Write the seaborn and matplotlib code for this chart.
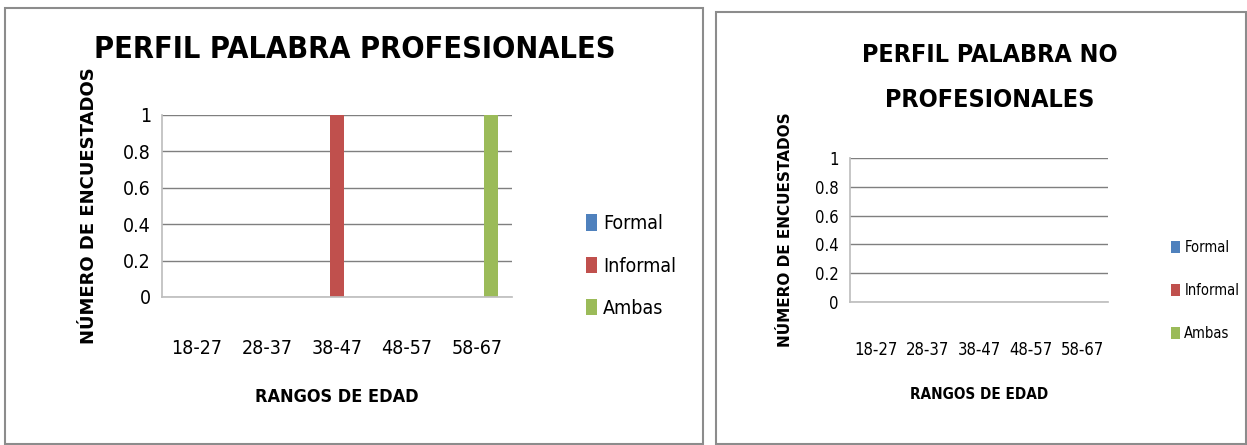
import matplotlib
matplotlib.use("Agg")
import matplotlib.pyplot as plt
import seaborn as sns
import pandas as pd
from matplotlib.patches import Rectangle

# ---- data ----
rangos = ["18-27", "28-37", "38-47", "48-57", "58-67"]
series = ["Formal", "Informal", "Ambas"]
prof_formal = [0, 0, 0, 0, 0]
prof_informal = [0, 0, 1, 0, 0]
prof_ambas = [0, 0, 0, 0, 1]
noprof_formal = [0, 0, 0, 0, 0]
noprof_informal = [0, 0, 0, 0, 0]
noprof_ambas = [0, 0, 0, 0, 0]
yticks = [0, 0.2, 0.4, 0.6, 0.8, 1]
ytick_labels = ["0", "0.2", "0.4", "0.6", "0.8", "1"]
colors = ["#4F81BD", "#C0504D", "#9BBB59"]

def make_df(f, i, a):
    rows = []
    for s, vals in zip(series, [f, i, a]):
        for r, v in zip(rangos, vals):
            rows.append({"Rango": r, "Serie": s, "Valor": v})
    return pd.DataFrame(rows)

df_prof = make_df(prof_formal, prof_informal, prof_ambas)
df_noprof = make_df(noprof_formal, noprof_informal, noprof_ambas)

sns.set_theme(style="white")
plt.rcParams["font.family"] = ["DejaVu Sans"]
plt.rcParams["font.stretch"] = "condensed"

W, H = 1247, 445
fig = plt.figure(figsize=(W / 100, H / 100), dpi=100)
fig.patch.set_facecolor("white")

def fx(x): return x / W
def fy(y): return 1 - y / H

# panel borders
fig.patches.append(Rectangle((fx(5), fy(444)), fx(698), (444 - 8) / H, transform=fig.transFigure,
                             fill=False, edgecolor="#8c8c8c", linewidth=1.5))
fig.patches.append(Rectangle((fx(716), fy(444)), fx(530), (444 - 12) / H, transform=fig.transFigure,
                             fill=False, edgecolor="#8c8c8c", linewidth=1.5))

def draw(ax, df, legend_anchor, tick_fs, leg_fs, xpad, xlabpad, ylab_fs, ylabpad, lspace):
    sns.barplot(data=df, x="Rango", y="Valor", hue="Serie", palette=colors,
                ax=ax, width=0.6, saturation=1, edgecolor="none")
    ax.set_ylim(0, 1)
    ax.set_yticks(yticks)
    ax.set_yticklabels(ytick_labels, fontsize=tick_fs, color="black")
    ax.tick_params(axis="x", labelsize=tick_fs, labelcolor="black", length=0, pad=xpad)
    ax.tick_params(axis="y", length=0, pad=8)
    ax.yaxis.grid(True, color="#7f7f7f", linewidth=1)
    ax.set_axisbelow(True)
    for s in ["top", "right"]:
        ax.spines[s].set_visible(False)
    ax.spines["left"].set_color("#bfbfbf")
    ax.spines["bottom"].set_color("#bfbfbf")
    ax.set_xlabel("RANGOS DE EDAD", fontsize=tick_fs - 1, fontweight="bold",
                  labelpad=xlabpad, color="black")
    ax.set_ylabel("NÚMERO DE ENCUESTADOS", fontsize=ylab_fs, fontweight="bold",
                  fontstretch="normal", labelpad=ylabpad, color="black")
    leg = ax.legend(loc="center left", bbox_to_anchor=legend_anchor, frameon=False,
                    fontsize=leg_fs, handlelength=0.6, handleheight=0.9,
                    labelspacing=lspace, handletextpad=0.3, borderaxespad=0, borderpad=0)
    for t in leg.get_texts():
        t.set_color("black")

# left chart
ax1 = fig.add_axes([fx(162), fy(297), fx(350), (297 - 115) / H])
draw(ax1, df_prof, (1.21, 0.17), 14, 14, 30, 22, 13, 18, 1.2)
fig.text(fx(355), fy(50), "PERFIL PALABRA PROFESIONALES", fontsize=22, fontweight="bold",
         ha="center", va="center", color="black")

# right chart
ax2 = fig.add_axes([fx(850), fy(302), fx(258), (302 - 158) / H])
draw(ax2, df_noprof, (1.245, 0.08), 12, 10.5, 28, 20, 11, 16, 1.9)
fig.text(fx(990), fy(55), "PERFIL PALABRA NO", fontsize=18, fontweight="bold",
         ha="center", va="center", color="black")
fig.text(fx(990), fy(100), "PROFESIONALES", fontsize=18, fontweight="bold",
         ha="center", va="center", color="black")

fig.savefig("out.png", dpi=100, facecolor="white")
